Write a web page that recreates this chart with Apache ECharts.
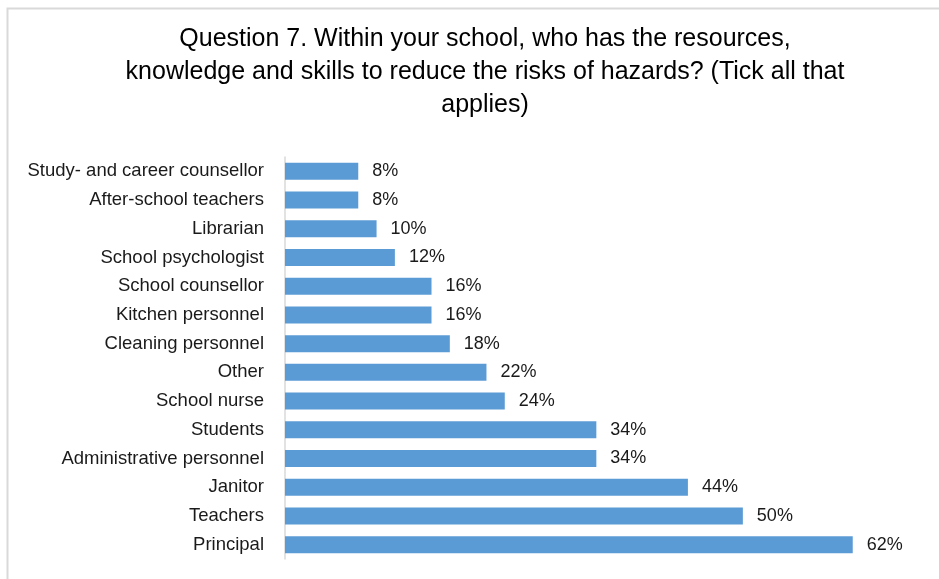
<!DOCTYPE html>
<html>
<head>
<meta charset="utf-8">
<script src="https://cdn.jsdelivr.net/npm/echarts@6/dist/echarts.min.js"></script>
<style>
  html, body { margin: 0; padding: 0; background: #fff; }
  #chart { width: 939px; height: 579px; }
</style>
</head>
<body>
<div id="chart"></div>
<script>
// Survey responses, listed top to bottom
const categories = [
  'Study- and career counsellor',
  'After-school teachers',
  'Librarian',
  'School psychologist',
  'School counsellor',
  'Kitchen personnel',
  'Cleaning personnel',
  'Other',
  'School nurse',
  'Students',
  'Administrative personnel',
  'Janitor',
  'Teachers',
  'Principal'
];
const shares = [8, 8, 10, 12, 16, 16, 18, 22, 24, 34, 34, 44, 50, 62];

const titleText = 'Question 7. Within your school, who has the resources,\nknowledge and skills to reduce the risks of hazards? (Tick all that\napplies)';

const FONT = '"Liberation Sans", sans-serif';

const chart = echarts.init(document.getElementById('chart'), null, { renderer: 'canvas' });
chart.setOption({
  animation: false,
  backgroundColor: '#ffffff',
  graphic: [{
    type: 'polyline',
    shape: { points: [[7.5, 600], [7.5, 8.5], [960, 8.5]] },
    style: { stroke: '#d9d9d9', lineWidth: 2, fill: null },
    silent: true
  }],
  title: {
    text: titleText,
    left: 480,
    top: 18,
    textAlign: 'center',
    textStyle: {
      fontFamily: FONT,
      fontSize: 25,
      fontWeight: 'normal',
      color: '#000000',
      lineHeight: 33
    }
  },
  grid: { left: 285, right: 13, top: 157, bottom: 20, containLabel: false },
  xAxis: {
    type: 'value',
    min: 0,
    max: 70,
    show: false
  },
  yAxis: {
    type: 'category',
    data: categories,
    inverse: true,
    axisLine: { show: true, lineStyle: { color: '#d9d9d9', width: 1.5 } },
    axisTick: { show: false },
    axisLabel: {
      margin: 21,
      fontFamily: FONT,
      fontSize: 18.5,
      color: '#1a1a1a'
    }
  },
  series: [{
    type: 'bar',
    data: shares,
    barWidth: 17,
    itemStyle: { color: '#5b9bd5' },
    label: {
      show: true,
      position: 'right',
      distance: 14,
      formatter: '{c}%',
      fontFamily: FONT,
      fontSize: 18,
      color: '#1a1a1a'
    }
  }]
});
</script>
</body>
</html>
